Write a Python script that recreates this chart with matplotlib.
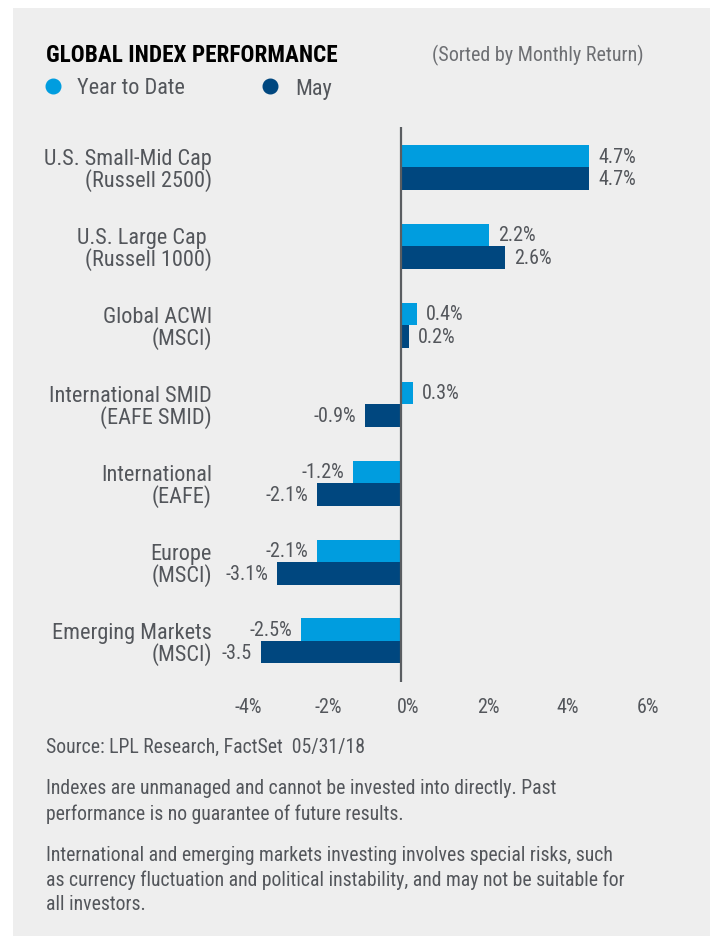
import matplotlib
matplotlib.use('Agg')
import matplotlib.pyplot as plt
import matplotlib.transforms as mtransforms
from matplotlib.lines import Line2D
from matplotlib.patches import Rectangle

plt.rcParams['font.family'] = ['Roboto Condensed', 'DejaVu Sans']
plt.rcParams['font.weight'] = 'normal'

categories = ['U.S. Small-Mid Cap\n(Russell 2500)',
              'U.S. Large Cap \n(Russell 1000)',
              'Global ACWI\n(MSCI)',
              'International SMID\n(EAFE SMID)',
              'International\n(EAFE)',
              'Europe\n(MSCI)',
              'Emerging Markets\n(MSCI)']
ytd = [4.7, 2.2, 0.4, 0.3, -1.2, -2.1, -2.5]
may = [4.7, 2.6, 0.2, -0.9, -2.1, -3.1, -3.5]
ytd_labels = ['4.7%', '2.2%', '0.4%', '0.3%', '-1.2%', '-2.1%', '-2.5%']
may_labels = ['4.7%', '2.6%', '0.2%', '-0.9%', '-2.1%', '-3.1%', '-3.5']
xticks = [-4, -2, 0, 2, 4, 6]
xtick_labels = ['-4%', '-2%', '0%', '2%', '4%', '6%']

LIGHT = '#009ddf'
DARK = '#00477f'
TEXT = '#53565b'
BG = '#eeeeee'

W, H = 710, 937


def fx(px):
    return px / W


def fy(py):
    return 1 - py / H


fig = plt.figure(figsize=(W / 100, H / 100), dpi=100)
fig.patch.set_facecolor('white')
fig.add_artist(Rectangle((fx(13), 0), 1 - fx(13), fy(9), transform=fig.transFigure,
                         facecolor=BG, edgecolor='none', zorder=-10))

# axes placed so that 0 sits at x=401 px, 40 px per percent
ppu = 40.0
xmin, xmax = -4.6, 6.6
left = 401 + xmin * ppu
right = 401 + xmax * ppu
top, bottom = 128, 683
ax = fig.add_axes([fx(left), fy(bottom), (right - left) / W, (bottom - top) / H])
ax.set_facecolor('none')

ys = list(range(len(categories)))
h = 0.285
ax.barh([y - h / 2 for y in ys], ytd, height=h, color=LIGHT, zorder=2)
ax.barh([y + h / 2 for y in ys], may, height=h, color=DARK, zorder=2)
ax.axvline(0, color='#5a5d61', lw=1.6, zorder=3)

ax.set_xlim(xmin, xmax)
ax.set_ylim(6.52, -0.51)
for s in ax.spines.values():
    s.set_visible(False)
ax.set_yticks([])
ax.set_xticks(xticks)
ax.set_xticklabels(xtick_labels, fontsize=14.5, color=TEXT)
ax.tick_params(axis='x', length=0, pad=11)
shift = mtransforms.ScaledTranslation(7 / 100, 0, fig.dpi_scale_trans)
for lab in ax.get_xticklabels():
    lab.set_transform(lab.get_transform() + shift)

gap = 9 / ppu
for y, v, t in zip(ys, ytd, ytd_labels):
    ax.text(v + gap if v >= 0 else v - gap, y - h / 2, t, ha='left' if v >= 0 else 'right',
            va='center', fontsize=14.5, color=TEXT)
for y, v, t in zip(ys, may, may_labels):
    ax.text(v + gap if v >= 0 else v - gap, y + h / 2, t, ha='left' if v >= 0 else 'right',
            va='center', fontsize=14.5, color=TEXT)

# category labels
for y, c in zip(ys, categories):
    ax.text(fx(212), y + 0.03, c,
            transform=mtransforms.blended_transform_factory(fig.transFigure, ax.transData),
            ha='right', va='center', fontsize=16, color=TEXT, linespacing=0.98)

# title and legend
fig.text(fx(46), fy(55), 'GLOBAL INDEX PERFORMANCE', fontsize=16.7, fontweight='bold',
         color='black', va='center', ha='left')
fig.text(fx(432), fy(55), '(Sorted by Monthly Return)', fontsize=14.5, color='#6d6f73',
         va='center', ha='left')
for cx, tx, col, lab in [(53, 77, LIGHT, 'Year to Date'), (270, 295, DARK, 'May')]:
    fig.add_artist(Line2D([fx(cx)], [fy(87)], marker='o', markersize=10.5, color=col,
                          transform=fig.transFigure))
    fig.text(fx(tx), fy(89), lab, fontsize=16, color=TEXT, va='center', ha='left')

# footnotes
notes = [(747, 'Source: LPL Research, FactSet  05/31/18'),
         (789, 'Indexes are unmanaged and cannot be invested into directly. Past'),
         (814, 'performance is no guarantee of future results.'),
         (856, 'International and emerging markets investing involves special risks, such'),
         (880, 'as currency fluctuation and political instability, and may not be suitable for'),
         (905, 'all investors.')]
for py, t in notes:
    fig.text(fx(46), fy(py), t, fontsize=14.2, color=TEXT, va='center', ha='left')

fig.savefig('out.png', dpi=100, facecolor=fig.get_facecolor())
